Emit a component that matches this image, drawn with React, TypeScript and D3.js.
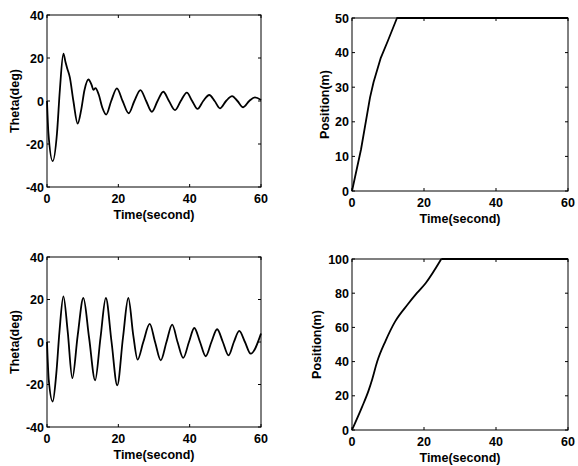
import React from "react";
import * as d3 from "d3";

// time ticks shared by all four panels
const timeTicks = [0, 20, 40, 60];
const thetaTicks = [-40, -20, 0, 20, 40];
const posTicksA = [0, 10, 20, 30, 40, 50];
const posTicksB = [0, 20, 40, 60, 80, 100];

// run A: pendulum angle (deg) vs time (s)
const thetaA_t = [0, 0.4, 1.6, 2.8, 3.6, 4.6, 5.2, 5.7, 6.4, 7.4, 8.6, 9.6, 10.5, 11.6, 12.5, 13.0, 13.6, 14.5, 15.5, 16.6, 18, 19.6, 21.2, 22.9, 24.5, 26.2, 27.8, 29.4, 31, 32.6, 34.2, 35.9, 37.5, 39.2, 40.7, 42.2, 43.8, 45.5, 47, 48.5, 50.2, 51.9, 53.4, 55, 56.7, 58.3, 60];
const thetaA_v = [0, -15, -28, -15, 5, 22, 18, 15, 11, 0, -10.5, -4, 5, 10, 7.5, 5.2, 6, 3, -3, -6.3, 0, 5.9, 0, -5.7, 0, 5.1, 0, -5, 0, 4.3, 0, -4.2, 0, 3.9, 0, -3.7, 0, 2.8, 0, -3.4, 0, 2.3, 0, -2.9, 0, 1.7, 0.5];

// run A: cart position (m)
const posA_t = [0, 2.5, 5, 6, 8, 10, 12.5, 60];
const posA_v = [0, 12, 27, 31.5, 38.5, 43.5, 50, 50];

// run B: pendulum angle (deg)
const thetaB_t = [0, 0.5, 1.6, 2.6, 3.5, 4.6, 5.8, 7.1, 8.6, 10.2, 11.8, 13.5, 15, 16.5, 18.1, 19.7, 21.3, 22.8, 24.2, 25.4, 27, 28.8, 30.3, 31.9, 33.5, 35.1, 36.6, 38.2, 39.8, 41.3, 42.9, 44.5, 46.1, 47.7, 49.3, 50.9, 52.4, 53.9, 55.5, 57.1, 60];
const thetaB_v = [0, -18, -28, -15, 5, 21.5, 5, -17, 3, 20.7, 2, -18, 2, 20.7, 0, -20.4, 2, 20.7, 3, -8.3, 0, 8.5, 0, -8.6, 0, 8.2, 0, -7.5, 0, 6.6, 0, -6.7, 0, 6, 0, -6.3, 0, 5.2, 0, -5.5, 4];

// run B: cart position (m)
const posB_t = [0, 2.8, 4.6, 5.6, 7, 9.3, 12, 15.5, 18, 20.5, 24.8, 60];
const posB_v = [0, 13.5, 23, 29.5, 40, 52, 63.5, 73.5, 80, 86, 100, 100];

const FONT = "'Liberation Sans', Arial, Helvetica, sans-serif";

type PanelProps = {
  x0: number; x1: number; y0: number; y1: number;
  yDomain: [number, number];
  yTicks: number[];
  ts: number[]; vs: number[];
  ylabel: string;
  ylabelX: number;
  curve: d3.CurveFactory;
  flatTail?: boolean; // cart hits the track end: keep a hard corner there
};

const Panel = ({ x0, x1, y0, y1, yDomain, yTicks, ts, vs, ylabel, ylabelX, curve, flatTail }: PanelProps) => {
  const x = d3.scaleLinear().domain([0, 60]).range([x0, x1]);
  const y = d3.scaleLinear().domain(yDomain).range([y1, y0]);
  const pts: [number, number][] = ts.map((t, i) => [t, vs[i]]);
  const line = d3.line<[number, number]>()
    .x((d) => x(d[0]))
    .y((d) => y(d[1]))
    .curve(curve);
  const straight = d3.line<[number, number]>().x((d) => x(d[0])).y((d) => y(d[1]));
  const n = pts.length;
  const paths = flatTail
    ? [line(pts.slice(0, n - 1)) || "", straight(pts.slice(n - 2)) || ""]
    : [line(pts) || ""];
  const tk = 3;
  return (
    <g>
      {paths.map((d, i) => (
        <path key={i} d={d} fill="none" stroke="#000" strokeWidth={1.8} strokeLinejoin="round" />
      ))}
      <rect x={x0} y={y0} width={x1 - x0} height={y1 - y0} fill="none" stroke="#000" strokeWidth={1} />
      {timeTicks.map((t) => (
        <g key={"x" + t}>
          <line x1={x(t)} x2={x(t)} y1={y1} y2={y1 - tk} stroke="#000" />
          <line x1={x(t)} x2={x(t)} y1={y0} y2={y0 + tk} stroke="#000" />
          <text x={x(t)} y={y1 + 16} textAnchor="middle" fontSize={12.5} fontWeight="bold" fontFamily={FONT}>{t}</text>
        </g>
      ))}
      {yTicks.map((v) => (
        <g key={"y" + v}>
          <line x1={x0} x2={x0 + tk} y1={y(v)} y2={y(v)} stroke="#000" />
          <line x1={x1} x2={x1 - tk} y1={y(v)} y2={y(v)} stroke="#000" />
          <text x={x0 - 3} y={y(v) + 4.5} textAnchor="end" fontSize={12.5} fontWeight="bold" fontFamily={FONT}>{v}</text>
        </g>
      ))}
      <text x={(x0 + x1) / 2} y={y1 + 32} textAnchor="middle" fontSize={12.5} fontWeight="bold" fontFamily={FONT}>Time(second)</text>
      <text
        transform={`translate(${ylabelX},${(y0 + y1) / 2}) rotate(-90)`}
        textAnchor="middle" fontSize={12.5} fontWeight="bold" fontFamily={FONT}
      >{ylabel}</text>
    </g>
  );
};

export default function App() {
  return (
    <svg width={578} height={466} style={{ position: "absolute", left: 0, top: 0, background: "#fff" }}>
      <rect width={578} height={466} fill="#fff" />
      <Panel x0={47} x1={261} y0={15} y1={187} yDomain={[-40, 40]} yTicks={thetaTicks}
        ts={thetaA_t} vs={thetaA_v} ylabel="Theta(deg)" ylabelX={19} curve={d3.curveMonotoneX} />
      <Panel x0={352} x1={568} y0={18} y1={191} yDomain={[0, 50]} yTicks={posTicksA}
        ts={posA_t} vs={posA_v} ylabel="Position(m)" ylabelX={329} curve={d3.curveLinear} />
      <Panel x0={47} x1={261} y0={257} y1={427} yDomain={[-40, 40]} yTicks={thetaTicks}
        ts={thetaB_t} vs={thetaB_v} ylabel="Theta(deg)" ylabelX={19} curve={d3.curveMonotoneX} />
      <Panel x0={352} x1={568} y0={259} y1={430} yDomain={[0, 100]} yTicks={posTicksB}
        ts={posB_t} vs={posB_v} ylabel="Position(m)" ylabelX={321} curve={d3.curveMonotoneX} flatTail />
    </svg>
  );
}
